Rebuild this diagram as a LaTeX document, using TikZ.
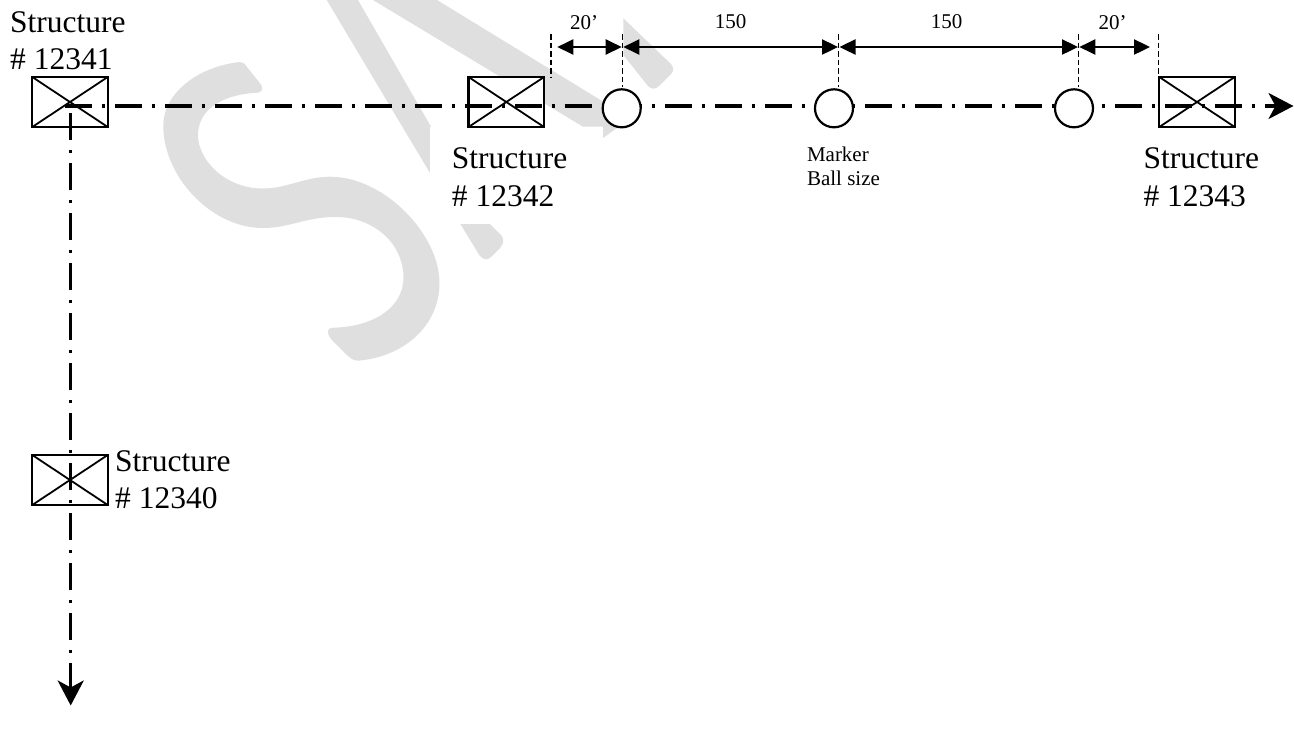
\documentclass[tikz,border=0pt]{standalone}
\usepackage{fontspec}
\setmainfont{Liberation Serif}
\usetikzlibrary{arrows.meta}
\definecolor{wm}{HTML}{DFDFDF}
\newcommand{\bigf}{\fontsize{31.5}{37.6}\selectfont}
\newcommand{\smallf}{\fontsize{21}{24}\selectfont}
\tikzset{
  x=1pt,y=-1pt,
  wmark/.style={fill=wm,draw=none},
  xbox/.style={draw=black,line width=2.2pt,fill=white,rectangle,inner sep=0pt,outer sep=0pt,minimum width=75.5pt,minimum height=50pt},
  xdiag/.style={draw=black,line width=1.8pt},
  ball/.style={draw=black,line width=2.2pt,fill=white,circle,inner sep=0pt,outer sep=0pt,minimum size=38pt},
  axis/.style={draw=black,line width=3.2pt,dash pattern=on 26.7pt off 9.8pt on 3.4pt off 10.1pt},
  axistip/.style={-{Stealth[length=25pt,width=26pt,inset=7pt]}},
  ext/.style={draw=black,line width=1.2pt,dash pattern=on 5.5pt off 3pt},
  dim/.style={draw=black,line width=2.4pt,{Triangle[length=16pt,width=15pt]}-{Triangle[length=16pt,width=15pt]}},
  biglab/.style={anchor=north west,inner sep=0pt,align=left,font=\bigf},
  smalllab/.style={anchor=north west,inner sep=0pt,align=left,font=\smallf},
  dimlab/.style={anchor=base,inner sep=0pt,font=\smallf},
}
\begin{document}
\begin{tikzpicture}
\useasboundingbox (0,0) rectangle (1294,740);
% watermark
\fill[wmark] (240,62)
 .. controls (200,66) and (163,92) .. (163.3,126)
 .. controls (163,175) and (210,228) .. (263,228)
 .. controls (290,228) and (305,217) .. (336,217)
 .. controls (375,217) and (403.5,245) .. (403.5,277)
 .. controls (403.5,310) and (370,327) .. (333,327.7)
 .. controls (327,328) and (326,332) .. (331,339)
 -- (347,355)
 .. controls (352,360) and (355,361) .. (360,360.5)
 .. controls (405,356) and (439.5,325) .. (439.5,283)
 .. controls (439.5,235) and (385,176.7) .. (330,176.7)
 .. controls (305,176.7) and (287,188.5) .. (263,188.5)
 .. controls (225,188.5) and (198,160) .. (198,135)
 .. controls (198,108) and (225,94) .. (258,92.7)
 .. controls (264,92) and (263,86) .. (259,82)
 -- (247,67)
 .. controls (245,64) and (243,62) .. (240,62) -- cycle;
\fill[wmark] (326.7,0) -- (460.4,224) -- (478,253) .. controls (482,260) and (487,261) .. (491,257) -- (500,248) .. controls (504,243) and (504,240) .. (502,236) -- (490,224) -- (430,125) -- (358,0) -- cycle;
\fill[wmark] (373,0) -- (583,126.7) -- (603,126.7) -- (603,138) -- (617,128) -- (625,115) -- (437,0) -- cycle;
\fill[wmark] (623.3,18.3) -- (671,64) .. controls (674,68) and (674,71) .. (671,74) -- (659,86) .. controls (655,90) and (651,89) .. (648,86) -- (623.3,55) -- cycle;
\fill[white] (430,126.7) rectangle (603,224);
% boxes
\node[xbox] (b41) at (70,102) {};
\node[xbox] (b42) at (506.3,102) {};
\node[xbox] (b43) at (1197,102) {};
\node[xbox] (b40) at (70,480) {};
\foreach \b in {b41,b42,b43,b40}{
  \draw[xdiag] (\b.north west) -- (\b.south east);
  \draw[xdiag] (\b.south west) -- (\b.north east);
}
% axes
\coordinate (hs) at (65,106);
\coordinate (he) at (1293.5,106);
\coordinate (vs) at (70.7,113.3);
\coordinate (ve) at (70.7,705.5);
\draw[axis,axistip] (hs) -- (he);
\draw[axis,axistip] (vs) -- (ve);
% balls
\node[ball] (c1) at (621.7,108.3) {};
\node[ball] (c2) at (834,108.3) {};
\node[ball] (c3) at (1074,108.3) {};
% dimension lines
\coordinate (t0) at (551,34);
\coordinate (t1) at (622.3,34);
\coordinate (t2) at (838.5,34);
\coordinate (t3) at (1078.3,34);
\coordinate (t4) at (1158.3,34);
\coordinate (u0) at (551,77);
\coordinate (u1) at (622.3,87);
\coordinate (u2) at (838.5,87);
\coordinate (u3) at (1078.3,87);
\coordinate (u4) at (1158.3,76);
\foreach \i in {0,...,4}{\draw[ext] (t\i) -- (u\i);}
\coordinate (a0) at (557.3,47);
\coordinate (a1) at (621.7,47);
\coordinate (a2) at (623.3,47);
\coordinate (a3) at (838,47);
\coordinate (a4) at (839.5,47);
\coordinate (a5) at (1078,47);
\coordinate (a6) at (1079.3,47);
\coordinate (a7) at (1150,47);
\draw[dim] (a0) -- (a1);
\draw[dim] (a2) -- (a3);
\draw[dim] (a4) -- (a5);
\draw[dim] (a6) -- (a7);
% labels
\node[dimlab] (d1) at (584,29.5) {20’};
\node[dimlab] (d2) at (730.5,28.5) {150};
\node[dimlab] (d3) at (946.5,28.5) {150};
\node[dimlab] (d4) at (1112.5,29.5) {20’};
\node[biglab] (l41) at (10,11) {Structure\\\# 12341};
\node[biglab] (l42) at (451.7,147.5) {Structure\\\# 12342};
\node[biglab] (l43) at (1143.3,147.5) {Structure\\\# 12343};
\node[biglab] (l40) at (115,450) {Structure\\\# 12340};
\node[smalllab] (m) at (806.8,147) {Marker\\Ball size};
\end{tikzpicture}
\end{document}
